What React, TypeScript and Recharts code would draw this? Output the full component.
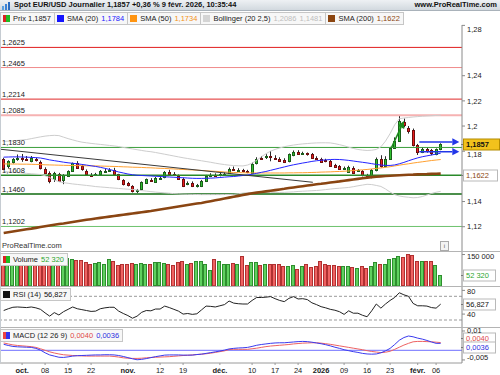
import React from "react";
import { Bar, ComposedChart, Line, ReferenceLine, XAxis, YAxis } from "recharts";

// trading days shown (daily candles)
const dates = [
  "2025-09-25", "2025-09-26", "2025-09-29", "2025-09-30",
  "2025-10-01", "2025-10-02", "2025-10-03", "2025-10-06", "2025-10-07", "2025-10-08", "2025-10-09", "2025-10-10",
  "2025-10-13", "2025-10-14", "2025-10-15", "2025-10-16", "2025-10-17", "2025-10-20", "2025-10-21", "2025-10-22",
  "2025-10-23", "2025-10-24", "2025-10-27", "2025-10-28", "2025-10-29", "2025-10-30", "2025-10-31",
  "2025-11-03", "2025-11-04", "2025-11-05", "2025-11-06", "2025-11-07", "2025-11-10", "2025-11-11", "2025-11-12",
  "2025-11-13", "2025-11-14", "2025-11-17", "2025-11-18", "2025-11-19", "2025-11-20", "2025-11-21", "2025-11-24",
  "2025-11-25", "2025-11-26", "2025-11-27", "2025-11-28",
  "2025-12-01", "2025-12-02", "2025-12-03", "2025-12-04", "2025-12-05", "2025-12-08", "2025-12-09", "2025-12-10",
  "2025-12-11", "2025-12-12", "2025-12-15", "2025-12-16", "2025-12-17", "2025-12-18", "2025-12-19", "2025-12-22",
  "2025-12-23", "2025-12-24", "2025-12-26", "2025-12-29", "2025-12-30", "2025-12-31",
  "2026-01-02", "2026-01-05", "2026-01-06", "2026-01-07", "2026-01-08", "2026-01-09", "2026-01-12", "2026-01-13",
  "2026-01-14", "2026-01-15", "2026-01-16", "2026-01-19", "2026-01-20", "2026-01-21", "2026-01-22", "2026-01-23",
  "2026-01-26", "2026-01-27", "2026-01-28", "2026-01-29", "2026-01-30",
  "2026-02-02", "2026-02-03", "2026-02-04", "2026-02-05", "2026-02-06", "2026-02-09",
];

const open = [
  1.1735, 1.168, 1.1712, 1.1744, 1.1746, 1.174, 1.1722, 1.1736, 1.1714, 1.1662, 1.1629, 1.1576,
  1.1615, 1.157, 1.1602, 1.1642, 1.1703, 1.168, 1.1642, 1.1612, 1.1613, 1.1616, 1.164, 1.1646,
  1.165, 1.1615, 1.157, 1.1549, 1.1522, 1.1484, 1.1496, 1.155, 1.1574, 1.1556, 1.1586, 1.1592,
  1.1632, 1.1622, 1.1602, 1.1581, 1.1544, 1.1549, 1.1524, 1.1523, 1.1562, 1.1603, 1.161, 1.1612,
  1.1616, 1.1629, 1.1661, 1.165, 1.1648, 1.164, 1.1625, 1.1703, 1.1748, 1.1756, 1.1765, 1.175,
  1.1742, 1.1732, 1.172, 1.1768, 1.1792, 1.178, 1.1782, 1.1774, 1.1746, 1.174, 1.173, 1.1721,
  1.1692, 1.1681, 1.1664, 1.1634, 1.1669, 1.1645, 1.1642, 1.1608, 1.1595, 1.1648, 1.1738, 1.168,
  1.1742, 1.1828, 1.1885, 1.2035, 1.1985, 1.1968, 1.185, 1.1793, 1.1816, 1.1806, 1.178, 1.1814,
];
const high = [
  1.1748, 1.1728, 1.1745, 1.1774, 1.1778, 1.1762, 1.1762, 1.1748, 1.1726, 1.1672, 1.164, 1.1636,
  1.1628, 1.1618, 1.1648, 1.171, 1.1721, 1.169, 1.1655, 1.1626, 1.1628, 1.165, 1.166, 1.1665,
  1.1668, 1.162, 1.1578, 1.1556, 1.153, 1.15, 1.156, 1.1583, 1.1586, 1.1596, 1.16, 1.1642,
  1.1652, 1.1634, 1.1615, 1.159, 1.156, 1.156, 1.154, 1.1572, 1.1612, 1.1625, 1.1624, 1.1628,
  1.1632, 1.167, 1.1678, 1.1665, 1.166, 1.1652, 1.171, 1.1752, 1.1762, 1.1776, 1.1802, 1.1768,
  1.1752, 1.1744, 1.1782, 1.1806, 1.1808, 1.1796, 1.179, 1.1786, 1.176, 1.1748, 1.174, 1.173,
  1.17, 1.169, 1.1678, 1.1685, 1.168, 1.1658, 1.165, 1.162, 1.1658, 1.175, 1.1768, 1.176,
  1.1835, 1.191, 1.2085, 1.206, 1.2, 1.198, 1.1858, 1.1832, 1.183, 1.1818, 1.1822, 1.1863,
];
const low = [
  1.165, 1.1662, 1.1702, 1.1724, 1.1716, 1.1722, 1.1712, 1.1718, 1.1655, 1.162, 1.1545, 1.1556,
  1.1555, 1.1538, 1.1596, 1.1636, 1.166, 1.1645, 1.1606, 1.16, 1.1603, 1.1608, 1.1628, 1.1636,
  1.1604, 1.157, 1.1528, 1.152, 1.1472, 1.1468, 1.149, 1.154, 1.1558, 1.1548, 1.1575, 1.1585,
  1.1612, 1.161, 1.1575, 1.1515, 1.153, 1.1515, 1.1512, 1.1515, 1.1555, 1.1594, 1.1595, 1.16,
  1.1605, 1.162, 1.1645, 1.1638, 1.1632, 1.1625, 1.1618, 1.1695, 1.1732, 1.1738, 1.172, 1.1735,
  1.1716, 1.1706, 1.1712, 1.176, 1.177, 1.177, 1.1765, 1.174, 1.1735, 1.171, 1.1712, 1.1675,
  1.167, 1.1655, 1.1655, 1.1628, 1.1622, 1.1635, 1.16, 1.1592, 1.1585, 1.164, 1.167, 1.1672,
  1.1732, 1.1818, 1.1875, 1.199, 1.194, 1.1838, 1.177, 1.1785, 1.1788, 1.1768, 1.1768, 1.1808,
];
const close = [
  1.1661, 1.172, 1.1735, 1.1748, 1.174, 1.1737, 1.1748, 1.1727, 1.1668, 1.1629, 1.156, 1.1626,
  1.1562, 1.1608, 1.1642, 1.1703, 1.1669, 1.1655, 1.1615, 1.161, 1.1618, 1.1642, 1.1645, 1.165,
  1.1615, 1.158, 1.1536, 1.153, 1.1483, 1.1488, 1.1554, 1.1576, 1.157, 1.1589, 1.1588, 1.1634,
  1.162, 1.1619, 1.1581, 1.1523, 1.1548, 1.1523, 1.1528, 1.1562, 1.1602, 1.1608, 1.1606, 1.1615,
  1.162, 1.1661, 1.1651, 1.1652, 1.1644, 1.1636, 1.17, 1.174, 1.1745, 1.1761, 1.176, 1.1746,
  1.1721, 1.1714, 1.1774, 1.1794, 1.1777, 1.1784, 1.1774, 1.1748, 1.1744, 1.1716, 1.1722, 1.1681,
  1.1676, 1.1661, 1.1667, 1.1677, 1.1629, 1.1647, 1.161, 1.1604, 1.165, 1.1738, 1.1685, 1.1742,
  1.1828, 1.1885, 1.204, 1.201, 1.1962, 1.1852, 1.179, 1.182, 1.1798, 1.1782, 1.1814, 1.1857,
];
const volume = [
  132000, 136000, 136000, 139000, 136000, 123000, 99000, 132000, 132000, 136000, 139000, 139000,
  132000, 123000, 132000, 127000, 123000, 123000, 115000, 107000, 110000, 112000, 107000, 127000,
  120000, 99000, 107000, 107000, 110000, 107000, 110000, 107000, 107000, 112000, 112000, 110000,
  104000, 99000, 115000, 120000, 107000, 110000, 120000, 120000, 107000, 78000, 127000, 120000,
  107000, 107000, 110000, 107000, 142000, 99000, 113000, 112000, 99000, 104000, 107000, 107000,
  107000, 94000, 96000, 99000, 80000, 94000, 107000, 91000, 96000, 118000, 107000, 99000,
  99000, 96000, 94000, 94000, 91000, 88000, 94000, 88000, 94000, 114000, 107000, 107000,
  127000, 132000, 143000, 136000, 152000, 146000, 120000, 120000, 120000, 120000, 99000, 52320,
];
const sma20 = [
  1.1753, 1.1754, 1.1755, 1.1755, 1.1754, 1.1753, 1.1751, 1.1749, 1.1746, 1.1739, 1.1731, 1.1725,
  1.1719, 1.1713, 1.1708, 1.1704, 1.17, 1.1695, 1.169, 1.1684, 1.1679, 1.1672, 1.1664, 1.1655,
  1.1645, 1.1635, 1.1627, 1.1619, 1.1613, 1.1609, 1.1607, 1.1605, 1.1603, 1.1601, 1.1599, 1.1597,
  1.1595, 1.1593, 1.1591, 1.1589, 1.1587, 1.1585, 1.1584, 1.1584, 1.1585, 1.1586, 1.1588, 1.1591,
  1.1594, 1.1597, 1.1599, 1.1603, 1.1607, 1.1611, 1.1617, 1.1624, 1.1632, 1.1639, 1.1648, 1.1657,
  1.1666, 1.1675, 1.1684, 1.1692, 1.1699, 1.1706, 1.1712, 1.1719, 1.1724, 1.1728, 1.1731, 1.1734,
  1.1735, 1.1734, 1.1731, 1.1727, 1.1722, 1.1717, 1.1712, 1.1707, 1.1701, 1.1695, 1.169, 1.1687,
  1.1687, 1.1691, 1.17, 1.1711, 1.1724, 1.1736, 1.1747, 1.1756, 1.1763, 1.177, 1.1777, 1.1784,
];
const sma50 = [
  1.1699, 1.1699, 1.1698, 1.1698, 1.1697, 1.1697, 1.1696, 1.1695, 1.1694, 1.1692, 1.1691, 1.169,
  1.1689, 1.1688, 1.1687, 1.1686, 1.1686, 1.1685, 1.1684, 1.1684, 1.1683, 1.1682, 1.1681, 1.168,
  1.1679, 1.1678, 1.1676, 1.1675, 1.1673, 1.1672, 1.1671, 1.1669, 1.1668, 1.1666, 1.1664, 1.1663,
  1.1661, 1.1659, 1.1657, 1.1655, 1.1653, 1.1651, 1.1649, 1.1647, 1.1645, 1.1642, 1.164, 1.1638,
  1.1635, 1.1633, 1.1631, 1.163, 1.1629, 1.1628, 1.1627, 1.1627, 1.1627, 1.1627, 1.1627, 1.1627,
  1.1627, 1.1627, 1.1628, 1.1628, 1.1629, 1.1629, 1.163, 1.1631, 1.1632, 1.1634, 1.1635, 1.1636,
  1.1638, 1.1639, 1.1641, 1.1643, 1.1646, 1.1649, 1.1652, 1.1655, 1.1659, 1.1663, 1.1667, 1.1672,
  1.1677, 1.1683, 1.1689, 1.1695, 1.17, 1.1706, 1.1711, 1.1716, 1.1721, 1.1726, 1.173, 1.1734,
];
const sma200 = [
  1.115, 1.1156, 1.1162, 1.1168, 1.1174, 1.118, 1.1185, 1.1191, 1.1197, 1.1203, 1.1209, 1.1215,
  1.1221, 1.1226, 1.1232, 1.1238, 1.1244, 1.125, 1.1255, 1.126, 1.1265, 1.127, 1.1275, 1.128,
  1.1285, 1.129, 1.1295, 1.13, 1.1305, 1.131, 1.1315, 1.132, 1.1325, 1.1331, 1.1337, 1.1343,
  1.1349, 1.1355, 1.1361, 1.1367, 1.1373, 1.1379, 1.1384, 1.1389, 1.1396, 1.1403, 1.141, 1.1417,
  1.1424, 1.1431, 1.1438, 1.1445, 1.1452, 1.1459, 1.1466, 1.1471, 1.1476, 1.1481, 1.1486, 1.1491,
  1.1496, 1.1501, 1.1507, 1.1512, 1.1517, 1.1522, 1.1527, 1.1532, 1.1537, 1.1541, 1.1546, 1.1551,
  1.1556, 1.156, 1.1565, 1.157, 1.1575, 1.158, 1.1585, 1.159, 1.1594, 1.1597, 1.16, 1.1603,
  1.1605, 1.1607, 1.1609, 1.1611, 1.1613, 1.1614, 1.1616, 1.1617, 1.1618, 1.162, 1.1621, 1.1622,
];
const bbUpper = [
  1.1878, 1.188, 1.1883, 1.1886, 1.1889, 1.1893, 1.19, 1.1907, 1.1914, 1.192, 1.1924, 1.1926,
  1.1924, 1.1912, 1.19, 1.189, 1.188, 1.1872, 1.1867, 1.1862, 1.1858, 1.1854, 1.185, 1.1846,
  1.1842, 1.1837, 1.183, 1.1824, 1.1818, 1.1812, 1.1806, 1.18, 1.1796, 1.179, 1.1783, 1.1776,
  1.1769, 1.1762, 1.1755, 1.1748, 1.1742, 1.1736, 1.173, 1.1724, 1.1718, 1.1712, 1.1705, 1.1699,
  1.1694, 1.1689, 1.1686, 1.1684, 1.1683, 1.169, 1.1705, 1.1728, 1.1755, 1.178, 1.18, 1.1814,
  1.1826, 1.1836, 1.1843, 1.1849, 1.1854, 1.1858, 1.1861, 1.1864, 1.1866, 1.1867, 1.1867, 1.1866,
  1.186, 1.1852, 1.1843, 1.1832, 1.1822, 1.1814, 1.1809, 1.1806, 1.1808, 1.1814, 1.1835, 1.188,
  1.194, 1.201, 1.2058, 1.2064, 1.2068, 1.2072, 1.2075, 1.2078, 1.208, 1.2082, 1.2084, 1.2086,
];
const bbLower = [
  1.1639, 1.1636, 1.1633, 1.163, 1.1627, 1.1624, 1.1621, 1.1618, 1.1615, 1.1605, 1.159, 1.1572,
  1.1558, 1.155, 1.1545, 1.154, 1.1536, 1.1532, 1.1528, 1.1524, 1.1519, 1.1516, 1.1513, 1.151,
  1.1507, 1.1504, 1.1501, 1.1498, 1.1496, 1.1492, 1.1487, 1.1483, 1.1479, 1.1475, 1.1472, 1.1469,
  1.1466, 1.1463, 1.1461, 1.1459, 1.1458, 1.1457, 1.1456, 1.1455, 1.1455, 1.1455, 1.1455, 1.1455,
  1.1456, 1.1456, 1.1457, 1.1462, 1.1467, 1.1471, 1.1472, 1.1472, 1.1472, 1.1472, 1.1472, 1.1472,
  1.1472, 1.1473, 1.1475, 1.1477, 1.148, 1.1482, 1.1484, 1.1486, 1.1488, 1.1491, 1.1495, 1.1499,
  1.1503, 1.1506, 1.1509, 1.1512, 1.1518, 1.1525, 1.1531, 1.1537, 1.1535, 1.1528, 1.152, 1.15,
  1.1475, 1.1455, 1.1444, 1.1438, 1.1434, 1.143, 1.1432, 1.144, 1.1452, 1.1464, 1.1474, 1.1481,
];
const rsi = [
  46, 49, 51.5, 52, 51.5, 51, 52, 50.5, 48, 42, 36.5, 42.5,
  38.5, 44, 48, 52, 49, 47.5, 46, 44.5, 45, 49, 50.5, 51.5,
  51.5, 45, 41, 37.5, 33, 36.5, 43, 46, 45.5, 48.5, 48.5, 53.5,
  51, 48, 45, 40, 41, 39.5, 40.5, 47, 53.5, 53, 52, 54,
  56, 62, 58.5, 57.5, 57, 57, 63, 68, 68, 68.5, 69.5, 66,
  63, 61, 66.5, 69.5, 65.5, 66, 64.5, 59, 56, 52.5, 50.5, 48,
  46.5, 44, 39.5, 45.5, 41.5, 41.5, 38, 35.5, 45.5, 57, 50, 57,
  63, 68, 76, 72.5, 70, 58, 54, 54, 53.5, 51, 50, 56.827,
];
const macd = [
  0.0038, 0.0033, 0.0028, 0.0025, 0.0023, 0.0021, 0.0019, 0.0015, 0.0008, 0.0, -0.0008, -0.0014,
  -0.0019, -0.0023, -0.0025, -0.0027, -0.0028, -0.0029, -0.003, -0.003, -0.003, -0.003, -0.003, -0.003,
  -0.0032, -0.0035, -0.0039, -0.0041, -0.0042, -0.0042, -0.0041, -0.0039, -0.0037, -0.0036, -0.0035, -0.0034,
  -0.0033, -0.0031, -0.0029, -0.0027, -0.0026, -0.0024, -0.0022, -0.002, -0.0018, -0.0015, -0.0011, -0.0007,
  -0.0003, 0.0004, 0.0005, 0.0005, 0.0005, 0.0005, 0.0008, 0.0011, 0.0015, 0.0019, 0.0022, 0.0024,
  0.0026, 0.0028, 0.003, 0.0033, 0.0035, 0.0037, 0.0038, 0.0039, 0.0039, 0.0037, 0.0034, 0.0031,
  0.0027, 0.0023, 0.0019, 0.0015, 0.0011, 0.0007, 0.0003, -0.0002, -0.0006, -0.0009, -0.0012, -0.001,
  -0.0005, 0.0005, 0.0016, 0.0027, 0.0036, 0.0044, 0.0046, 0.0046, 0.0045, 0.0044, 0.0042, 0.004,
];
const macdSignal = [
  0.0031, 0.0025, 0.002, 0.0018, 0.0017, 0.0016, 0.0015, 0.001, 0.0001, -0.0013, -0.0024, -0.003,
  -0.0036, -0.0037, -0.0034, -0.003, -0.0028, -0.0027, -0.0026, -0.0025, -0.0024, -0.0024, -0.0023, -0.0023,
  -0.0024, -0.0027, -0.0032, -0.0038, -0.0044, -0.0049, -0.0047, -0.0043, -0.0038, -0.0033, -0.0029, -0.0025,
  -0.0024, -0.0024, -0.0024, -0.0025, -0.0025, -0.0025, -0.0022, -0.002, -0.0016, -0.0012, -0.0008, -0.0004,
  0.0001, 0.0007, 0.001, 0.0012, 0.0013, 0.0015, 0.002, 0.0026, 0.003, 0.0033, 0.0036, 0.0038,
  0.0039, 0.0039, 0.0041, 0.0043, 0.0045, 0.0046, 0.0045, 0.0042, 0.0038, 0.0034, 0.0029, 0.0023,
  0.0016, 0.001, 0.0003, -0.0002, -0.0007, -0.0011, -0.0016, -0.0019, -0.002, -0.0019, -0.0013, -0.0003,
  0.001, 0.003, 0.0052, 0.0066, 0.0074, 0.007, 0.0063, 0.0058, 0.0051, 0.0043, 0.0036, 0.0036,
];

// horizontal support / resistance levels drawn on the price panel
const priceLevels = [1.2625, 1.2465, 1.2214, 1.2085, 1.183, 1.1608, 1.146, 1.1202];
const levelColors = ["#e01e1e", "#f08c8c", "#e02828", "#f6b2b2", "#3a9e3a", "#2a8a2a", "#0f6a0f", "#6cc26c"];
const levelWidths = [1, 1, 1, 2, 1, 1.5, 1.5, 1];

// hand-drawn annotations (x = candle index, y = price)
const trendLine = [
  { x: -0.8, y: 1.1816 },
  { x: 67.2, y: 1.1553 },
];
const upArrow = [
  { x: 84.3, y: 1.1828 },
  { x: 87.0, y: 1.204 },
];
const sideArrowLevels = [1.1874, 1.1796];
const sideArrowSpan = [90.35, 99.05];

const axisTicks = [
  { d: "2025-10-01", t: "oct.", b: true },
  { d: "2025-10-08", t: "08" },
  { d: "2025-10-15", t: "15" },
  { d: "2025-10-22", t: "22" },
  { d: "2025-11-03", t: "nov.", b: true },
  { d: "2025-11-12", t: "12" },
  { d: "2025-11-19", t: "19" },
  { d: "2025-12-01", t: "déc.", b: true },
  { d: "2025-12-10", t: "10" },
  { d: "2025-12-17", t: "17" },
  { d: "2025-12-24", t: "24" },
  { d: "2026-01-02", t: "2026", b: true },
  { d: "2026-01-09", t: "09" },
  { d: "2026-01-16", t: "16" },
  { d: "2026-01-23", t: "23" },
  { d: "2026-02-02", t: "févr.", b: true },
  { d: "2026-02-06", t: "06" },
];

const rows = dates.map((d, i) => ({
  i,
  d,
  o: open[i],
  h: high[i],
  l: low[i],
  c: close[i],
  v: volume[i],
  s20: sma20[i],
  s50: sma50[i],
  s200: sma200[i],
  bu: bbUpper[i],
  bl: bbLower[i],
  rsi: rsi[i],
  m: macd[i],
  sg: macdSignal[i],
}));

const X_DOMAIN: [number, number] = [-0.8, 99.63];
const FONT = "'Liberation Sans', Arial, Helvetica, sans-serif";
const FS = 7.5;
const last = dates.length - 1;

const fmt = (v: number, n: number) => v.toFixed(n).replace(".", ",");
const fmtVol = (v: number) => String(v).replace(/\B(?=(\d{3})+(?!\d))/g, " ");
const change = ((close[last] / close[last - 1] - 1) * 100).toFixed(2).replace(".", ",");

function Candle(props: any) {
  const { x, y, width, height, payload } = props;
  if (!payload || x == null || y == null) return null;
  const { o, h, l, c } = payload;
  const k = h > l ? height / (h - l) : 0;
  const py = (v: number) => y + (h - v) * k;
  const cx = Math.floor(x + width / 2) + 0.5;
  const up = c >= o;
  const top = Math.round(py(Math.max(o, c)));
  const bot = Math.round(py(Math.min(o, c)));
  return (
    <g>
      <line x1={cx} x2={cx} y1={y} y2={y + height} stroke="#2a2a2a" strokeWidth={1} />
      <rect
        x={cx - 1}
        y={top + 0.5}
        width={2}
        height={Math.max(bot - top, 1)}
        fill={up ? "#2fc02f" : "#ea1c1c"}
        stroke={up ? "#1b5e1b" : "#6e0e0e"}
        strokeWidth={1}
      />
    </g>
  );
}

function VolBar(props: any) {
  const { x, y, width, height, payload } = props;
  if (!payload || x == null || y == null) return null;
  const up = payload.c >= payload.o;
  const cx = Math.floor(x + width / 2);
  return (
    <rect
      x={cx - 1.5}
      y={Math.round(y) + 0.5}
      width={3}
      height={Math.max(height - 0.5, 0)}
      fill={up ? "#5fd05f" : "#ef6262"}
      stroke={up ? "#2e8e2e" : "#b03030"}
      strokeWidth={1}
    />
  );
}

function arrowShape(color: string) {
  return (p: any) => {
    const { x1, y1, x2, y2 } = p;
    const a = Math.atan2(y2 - y1, x2 - x1);
    const L = 7;
    const W = 3.6;
    const bx = x2 - L * Math.cos(a);
    const by = y2 - L * Math.sin(a);
    const pts = `${x2},${y2} ${bx - W * Math.sin(a)},${by + W * Math.cos(a)} ${bx + W * Math.sin(a)},${by - W * Math.cos(a)}`;
    return (
      <g>
        <line x1={x1} y1={y1} x2={bx} y2={by} stroke={color} strokeWidth={1.5} />
        <polygon points={pts} fill={color} />
      </g>
    );
  };
}

function tagLabel(text: string, color: string, bg: string, border: string, dy: number, w: number, bold = false) {
  return (p: any) => {
    const vb = p.viewBox || {};
    const x = Math.round((vb.x ?? 0) + (vb.width ?? 0)) + 1;
    const y = Math.round((vb.y ?? 0) + dy);
    return (
      <g>
        <line x1={x - 2} x2={x + 1} y1={y + 0.5} y2={y + 0.5} stroke="#666" />
        <rect x={x + 0.5} y={y - 5} width={w} height={11} fill={bg} stroke={border} />
        <text x={x + 3} y={y + 3.3} fill={color} fontSize={FS} fontWeight={bold ? "bold" : "normal"}>
          {text}
        </text>
      </g>
    );
  };
}

function yTick(format: (v: number) => string, shift: Record<string, number> = {}) {
  return (p: any) => {
    const v = p.payload.value;
    return (
      <text x={p.x} y={p.y + (shift[String(v)] ?? 0)} dy={2.7} fontSize={FS} fill="#222" textAnchor="start">
        {format(v)}
      </text>
    );
  };
}

function XTick(p: any) {
  const tk = axisTicks.find((t) => dates.indexOf(t.d) === p.payload.value);
  if (!tk) return null;
  return (
    <text x={p.x} y={p.y} dy={6} fontSize={FS} fill="#222" textAnchor="middle" fontWeight={tk.b ? "bold" : "normal"}>
      {tk.t}
    </text>
  );
}

const xTickValues = axisTicks.map((t) => dates.indexOf(t.d));

function LegendItem({ sw, label, values }: { sw: React.ReactNode; label: string; values: { t: string; c: string }[] }) {
  return (
    <div
      style={{
        display: "flex",
        alignItems: "center",
        height: 11,
        border: "1px solid #c6c6c6",
        marginRight: -1,
        padding: "0 3px 0 2px",
        background: "#f7f7f7",
        whiteSpace: "nowrap",
      }}
    >
      {sw}
      <span style={{ marginLeft: 3, color: "#1a1a1a" }}>{label}</span>
      {values.map((v, k) => (
        <span key={k} style={{ marginLeft: 3, color: v.c }}>
          {v.t}
        </span>
      ))}
    </div>
  );
}

const sq = (c: string) => <span style={{ display: "inline-block", width: 7, height: 7, background: c }} />;
const sq2 = (a: string, b: string) => (
  <span style={{ display: "inline-flex", width: 7, height: 7 }}>
    <span style={{ width: 3, background: a }} />
    <span style={{ width: 4, background: b }} />
  </span>
);

export default function App() {
  const axisColor = "#8a8a8a";
  return (
    <div
      style={{
        position: "absolute",
        left: 0,
        top: 0,
        width: 500,
        height: 375,
        background: "#fff",
        fontFamily: FONT,
        fontSize: FS,
        overflow: "hidden",
      }}
    >
      {/* title bar */}
      <div
        style={{
          position: "absolute",
          left: 0,
          top: 0,
          width: 500,
          height: 11,
          background: "linear-gradient(#eef1f4, #d2d9df)",
          borderBottom: "1px solid #a9b2ba",
          boxSizing: "border-box",
        }}
      >
        <svg width={10} height={9} style={{ position: "absolute", left: 2, top: 1 }}>
          <rect x={0} y={5} width={2} height={4} fill="#5aa0e0" />
          <rect x={3} y={3} width={2} height={6} fill="#3b82d6" />
          <rect x={6} y={1} width={2} height={8} fill="#2a6cc0" />
        </svg>
        <span style={{ position: "absolute", left: 14, top: 0, lineHeight: "10px", fontWeight: "bold", color: "#111" }}>
          {`Spot EUR/USD Journalier ${fmt(close[last], 4)} +${change} % 9 févr. 2026, 10:35:44`}
        </span>
        <span style={{ position: "absolute", right: 3, top: 0, lineHeight: "10px", fontWeight: "bold", color: "#111" }}>
          www.ProRealTime.com
        </span>
      </div>

      {/* legend row */}
      <div style={{ position: "absolute", left: 0, top: 12, display: "flex" }}>
        <LegendItem sw={sq2("#d22", "#2b2")} label={`Prix ${fmt(close[last], 4)}`} values={[]} />
        <LegendItem sw={sq("#1414ff")} label="SMA (20)" values={[{ t: fmt(sma20[last], 4), c: "#1a1aff" }]} />
        <LegendItem sw={sq("#ff9410")} label="SMA (50)" values={[{ t: fmt(sma50[last], 4), c: "#f39318" }]} />
        <LegendItem
          sw={sq("#d4d4d4")}
          label="Bollinger (20 2,5)"
          values={[
            { t: fmt(bbUpper[last], 4), c: "#bdbdbd" },
            { t: fmt(bbLower[last], 4), c: "#bdbdbd" },
          ]}
        />
        <LegendItem sw={sq("#8b4510")} label="SMA (200)" values={[{ t: fmt(sma200[last], 4), c: "#8b4510" }]} />
      </div>

      {/* price panel */}
      <div style={{ position: "absolute", left: 0, top: 20 }}>
        <ComposedChart width={500} height={236} data={rows} margin={{ top: 5, right: 0, bottom: 5, left: 0 }}>
          <XAxis dataKey="i" type="number" domain={X_DOMAIN} allowDataOverflow hide />
          <YAxis
            orientation="right"
            width={38}
            domain={[1.1007, 1.2803]}
            allowDataOverflow
            ticks={[1.12, 1.14, 1.18, 1.2, 1.22, 1.24, 1.26, 1.28]}
            tick={yTick((v) => String(v).replace(".", ","), { "1.18": 3 })}
            tickSize={3}
            stroke={axisColor}
          />
          {priceLevels.map((v, k) => (
            <ReferenceLine
              key={v}
              y={v}
              stroke={levelColors[k]}
              strokeWidth={levelWidths[k]}
              label={{ value: fmt(v, 4), position: "insideBottomLeft", offset: 2, fill: "#222", fontSize: FS }}
            />
          ))}
          <Line dataKey="bu" stroke="#cdcdcd" strokeWidth={1} dot={false} isAnimationActive={false} />
          <Line dataKey="bl" stroke="#cdcdcd" strokeWidth={1} dot={false} isAnimationActive={false} />
          <Line dataKey="s200" stroke="#8a4512" strokeWidth={2.6} dot={false} isAnimationActive={false} />
          <Line dataKey="s50" stroke="#ffa030" strokeWidth={1} dot={false} isAnimationActive={false} />
          <Line dataKey="s20" stroke="#2424ff" strokeWidth={1} dot={false} isAnimationActive={false} />
          <ReferenceLine segment={trendLine} stroke="#3a3a3a" strokeWidth={1} />
          <Bar
            dataKey={(r: any) => [r.l, r.h]}
            barSize={3}
            shape={(p: any) => <Candle {...p} />}
            isAnimationActive={false}
          />
          <ReferenceLine segment={upArrow} shape={arrowShape("#1d8a1d")} />
          {sideArrowLevels.map((v) => (
            <ReferenceLine
              key={v}
              segment={[
                { x: sideArrowSpan[0], y: v },
                { x: sideArrowSpan[1], y: v },
              ]}
              shape={arrowShape("#2236e8")}
            />
          ))}
          <ReferenceLine
            y={close[last]}
            stroke="none"
            label={tagLabel(fmt(close[last], 4), "#111", "#f2c21c", "#b48c00", 0, 36, true)}
          />
          <ReferenceLine
            y={sma200[last]}
            stroke="none"
            label={tagLabel(fmt(sma200[last], 4), "#8b4510", "#fff", "#b9b9b9", 1, 34)}
          />
        </ComposedChart>
      </div>

      {/* watermark and info box */}
      <div style={{ position: "absolute", left: 2, top: 241, color: "#333", lineHeight: "10px" }}>ProRealTime.com</div>
      <div
        style={{
          position: "absolute",
          left: 440,
          top: 241,
          width: 7,
          height: 8,
          border: "1px solid #aaa",
          fontSize: 6,
          lineHeight: "8px",
          textAlign: "center",
          color: "#555",
          background: "#f4f4f4",
        }}
      >
        i
      </div>

      {/* volume panel */}
      <div style={{ position: "absolute", left: 0, top: 247 }}>
        <ComposedChart width={500} height={44} data={rows} margin={{ top: 5, right: 0, bottom: 5, left: 0 }}>
          <XAxis dataKey="i" type="number" domain={X_DOMAIN} allowDataOverflow hide />
          <YAxis
            orientation="right"
            width={38}
            domain={[0, 162000]}
            allowDataOverflow
            ticks={[0, 100000, 150000]}
            tick={yTick(fmtVol, { "0": -4 })}
            tickSize={3}
            stroke={axisColor}
          />
          <Bar dataKey="v" barSize={4} shape={(p: any) => <VolBar {...p} />} isAnimationActive={false} />
          <ReferenceLine
            y={volume[last]}
            stroke="none"
            label={tagLabel(fmtVol(volume[last]), "#2ea52e", "#fff", "#b9b9b9", 0, 32)}
          />
        </ComposedChart>
      </div>

      {/* rsi panel */}
      <div style={{ position: "absolute", left: 0, top: 282 }}>
        <ComposedChart width={500} height={50} data={rows} margin={{ top: 5, right: 0, bottom: 5, left: 0 }}>
          <XAxis dataKey="i" type="number" domain={X_DOMAIN} allowDataOverflow hide />
          <YAxis
            orientation="right"
            width={38}
            domain={[18.2, 85.7]}
            allowDataOverflow
            ticks={[20, 40, 80]}
            tick={yTick((v) => String(v), { "20": -5 })}
            tickSize={3}
            stroke={axisColor}
          />
          <ReferenceLine y={70} stroke="#9a9a9a" strokeDasharray="3 2" />
          <ReferenceLine y={30} stroke="#9a9a9a" strokeDasharray="3 2" />
          <Line dataKey="rsi" stroke="#222" strokeWidth={1} dot={false} isAnimationActive={false} />
          <ReferenceLine y={rsi[last]} stroke="none" label={tagLabel(fmt(rsi[last], 3), "#111", "#fff", "#b9b9b9", 0, 32)} />
        </ComposedChart>
      </div>

      {/* macd panel + date axis */}
      <div style={{ position: "absolute", left: 0, top: 323 }}>
        <ComposedChart width={500} height={52} data={rows} margin={{ top: 5, right: 0, bottom: 0, left: 0 }}>
          <XAxis
            dataKey="i"
            type="number"
            domain={X_DOMAIN}
            allowDataOverflow
            ticks={xTickValues}
            interval={0}
            tick={(p: any) => <XTick {...p} />}
            tickSize={2}
            height={12}
            stroke="#9a9a9a"
          />
          <YAxis
            orientation="right"
            width={38}
            domain={[-0.00658, 0.01155]}
            allowDataOverflow
            ticks={[-0.005, 0.01]}
            tick={yTick((v) => String(v).replace(".", ","), { "-0.005": -3, "0.01": -2 })}
            tickSize={3}
            stroke={axisColor}
          />
          <ReferenceLine y={0} stroke="#6f6fff" strokeWidth={1} />
          <Line dataKey="m" stroke="#ee6262" strokeWidth={1} dot={false} isAnimationActive={false} />
          <Line dataKey="sg" stroke="#3a3aee" strokeWidth={1} dot={false} isAnimationActive={false} />
          <ReferenceLine
            y={macd[last]}
            stroke="none"
            label={tagLabel(fmt(macd[last], 4), "#e04848", "#fff", "#b9b9b9", -4.5, 32)}
          />
          <ReferenceLine
            y={macdSignal[last]}
            stroke="none"
            label={tagLabel(fmt(macdSignal[last], 4), "#2f2fe0", "#fff", "#b9b9b9", 4, 32)}
          />
        </ComposedChart>
      </div>

      {/* panel separators */}
      {[251, 286, 327].map((t) => (
        <div key={t} style={{ position: "absolute", left: 0, top: t, width: 500, height: 1, background: "#b4b4b4" }} />
      ))}
      <div style={{ position: "absolute", left: 0, top: 25, width: 1, height: 338, background: "#c6ccd2" }} />

      {/* sub-panel legends */}
      <div style={{ position: "absolute", left: 0, top: 253, display: "flex" }}>
        <LegendItem sw={sq2("#d22", "#2b2")} label="Volume" values={[{ t: fmtVol(volume[last]), c: "#2ea52e" }]} />
      </div>
      <div style={{ position: "absolute", left: 0, top: 288, display: "flex" }}>
        <LegendItem sw={sq("#111")} label="RSI (14)" values={[{ t: fmt(rsi[last], 3), c: "#111" }]} />
      </div>
      <div style={{ position: "absolute", left: 0, top: 329, display: "flex" }}>
        <LegendItem
          sw={sq2("#e44", "#33e")}
          label="MACD (12 26 9)"
          values={[
            { t: fmt(macd[last], 4), c: "#e04848" },
            { t: fmt(macdSignal[last], 4), c: "#2f2fe0" },
          ]}
        />
      </div>
    </div>
  );
}
